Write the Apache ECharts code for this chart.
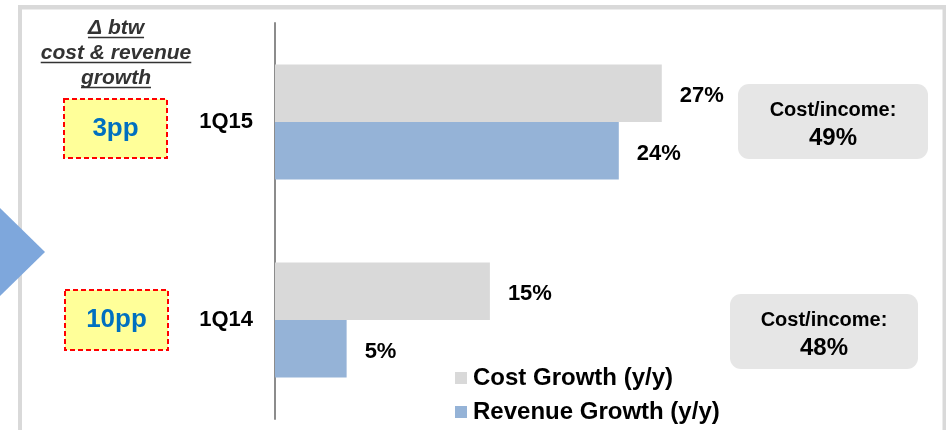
<!DOCTYPE html>
<html>
<head>
<meta charset="utf-8">
<script src="https://cdn.jsdelivr.net/npm/echarts@6/dist/echarts.min.js"></script>
<style>
  html, body { margin: 0; padding: 0; background: #fff; }
  #chart { width: 946px; height: 430px; }
</style>
</head>
<body>
<div id="chart"></div>
<script>
// Quarter categories (bottom to top) and y/y growth rates in %
const categories = ['1Q14', '1Q15'];
const costGrowth = [15, 27];
const revenueGrowth = [5, 24];
// Cost/income ratio per quarter, %
const costIncome = [48, 49];
const seriesNames = ['Cost Growth (y/y)', 'Revenue Growth (y/y)'];
const titleLines = ['\u0394 btw', 'cost & revenue', 'growth'];

const FONT = '"Liberation Sans", Arial, Helvetica, sans-serif';
const COST_COLOR = '#D9D9D9';
const REV_COLOR = '#95B3D7';

const chart = echarts.init(document.getElementById('chart'), null, { renderer: 'canvas' });

function measure(str, font) {
  const ctx = document.createElement('canvas').getContext('2d');
  ctx.font = font;
  return ctx.measureText(str).width;
}

const graphics = [];

// outer frame
graphics.push(
  { type: 'rect', shape: { x: 18, y: 5, width: 928, height: 4.5 }, style: { fill: '#D9D9D9' }, silent: true },
  { type: 'rect', shape: { x: 18, y: 5, width: 4, height: 425 }, style: { fill: '#D9D9D9' }, silent: true },
  { type: 'rect', shape: { x: 942.5, y: 5, width: 3.5, height: 425 }, style: { fill: '#D9D9D9' }, silent: true }
);

// arrow pointing into the panel
graphics.push({
  type: 'polygon',
  shape: { points: [[-2, 206], [45, 252], [-2, 298]] },
  style: { fill: '#7EA7DC' },
  silent: true
});

// heading of the delta column, underlined
const titleFont = 'italic bold 21px ' + FONT;
const titleCx = 116;
const baselines = [35, 60, 85];
titleLines.forEach((line, i) => {
  graphics.push({
    type: 'text',
    x: titleCx, y: baselines[i] - 7,
    style: {
      text: line, font: titleFont, fill: '#333333',
      align: 'center', verticalAlign: 'middle'
    },
    silent: true
  });
  const w = measure(line, titleFont);
  graphics.push({
    type: 'line',
    shape: { x1: titleCx - w / 2, y1: baselines[i] + 2.5, x2: titleCx + w / 2, y2: baselines[i] + 2.5 },
    style: { stroke: '#333333', lineWidth: 1.6 },
    silent: true
  });
});

// delta (cost growth minus revenue growth) boxes
const deltaBoxes = [
  { idx: 1, x: 64, y: 99, w: 103, h: 59 },
  { idx: 0, x: 65, y: 290, w: 103, h: 60 }
];
deltaBoxes.forEach(b => {
  const delta = costGrowth[b.idx] - revenueGrowth[b.idx];
  graphics.push({
    type: 'rect',
    shape: { x: b.x, y: b.y, width: b.w, height: b.h },
    style: { fill: '#FFFF99', stroke: '#FF0000', lineWidth: 2, lineDash: [5, 3] },
    silent: true
  });
  graphics.push({
    type: 'text',
    x: b.x + b.w / 2, y: b.y + b.h / 2,
    style: {
      text: delta + 'pp', font: 'bold 26px ' + FONT, fill: '#0070C0',
      align: 'center', verticalAlign: 'middle'
    },
    silent: true
  });
});

// cost/income callouts
const ciBoxes = [
  { idx: 1, x: 738, y: 84, w: 190, h: 75 },
  { idx: 0, x: 730, y: 294, w: 188, h: 75 }
];
ciBoxes.forEach(b => {
  const cx = b.x + b.w / 2;
  graphics.push({
    type: 'rect',
    shape: { x: b.x, y: b.y, width: b.w, height: b.h, r: 11 },
    style: { fill: '#E6E6E6' },
    silent: true
  });
  graphics.push({
    type: 'text',
    x: cx, y: b.y + 26,
    style: {
      text: 'Cost/income:', font: 'bold 20px ' + FONT, fill: '#000',
      align: 'center', verticalAlign: 'middle'
    },
    silent: true
  });
  graphics.push({
    type: 'text',
    x: cx, y: b.y + 54,
    style: {
      text: costIncome[b.idx] + '%', font: 'bold 24px ' + FONT, fill: '#000',
      align: 'center', verticalAlign: 'middle'
    },
    silent: true
  });
});

const valueLabel = {
  show: true,
  position: 'right',
  distance: 18,
  offset: [0, 3],
  formatter: p => p.value + '%',
  fontFamily: FONT,
  fontWeight: 'bold',
  fontSize: 22,
  color: '#000'
};

chart.setOption({
  animation: false,
  backgroundColor: '#ffffff',
  grid: { left: 275, right: 98, top: 23, bottom: 11, containLabel: false },
  xAxis: {
    type: 'value', min: 0, max: 40,
    show: false
  },
  yAxis: {
    type: 'category',
    data: categories,
    axisLine: { show: true, lineStyle: { color: '#8C8C8C', width: 2 } },
    axisTick: { show: false },
    splitLine: { show: false },
    axisLabel: {
      margin: 22,
      fontFamily: FONT, fontWeight: 'bold', fontSize: 22, color: '#000'
    }
  },
  legend: {
    orient: 'vertical',
    left: 455, top: 366,
    padding: 0,
    itemWidth: 12, itemHeight: 12,
    itemGap: 10,
    icon: 'rect',
    data: seriesNames,
    selectedMode: false,
    textStyle: {
      fontFamily: FONT, fontWeight: 'bold', fontSize: 24, color: '#000',
      lineHeight: 24, padding: [0, 0, 0, 1]
    }
  },
  series: [
    {
      name: seriesNames[0], type: 'bar',
      data: costGrowth,
      itemStyle: { color: COST_COLOR },
      barGap: '0%', barCategoryGap: '42%',
      label: valueLabel
    },
    {
      name: seriesNames[1], type: 'bar',
      data: revenueGrowth,
      itemStyle: { color: REV_COLOR },
      barGap: '0%', barCategoryGap: '42%',
      label: valueLabel
    }
  ],
  graphic: { elements: graphics }
});
</script>
</body>
</html>
